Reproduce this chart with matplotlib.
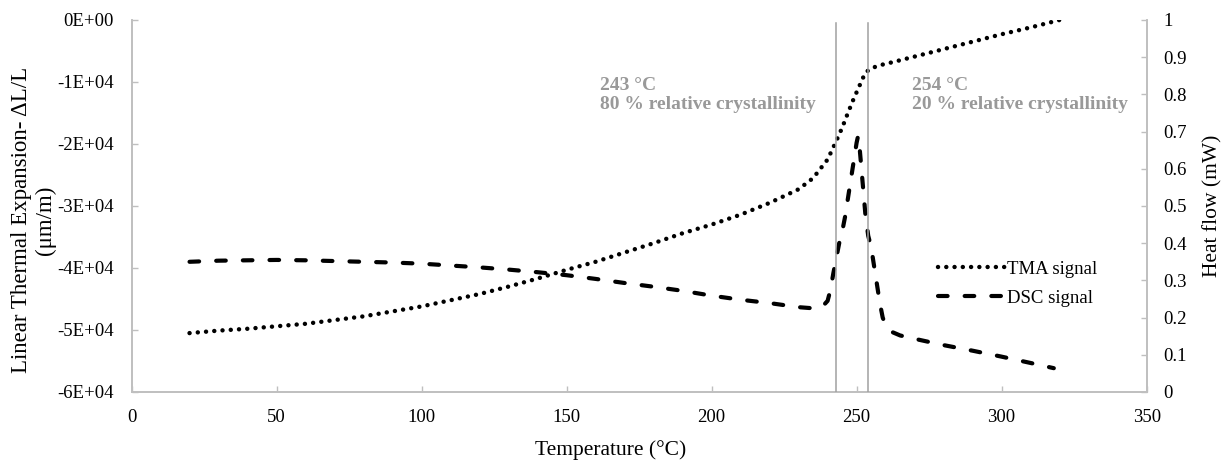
import numpy as np
import matplotlib
matplotlib.use('Agg')
import matplotlib.pyplot as plt
from matplotlib.ticker import FuncFormatter, MultipleLocator

plt.rcParams['font.family'] = ['Liberation Serif', 'DejaVu Serif']

# TMA signal (left axis, um/m)
tma_T = [20, 30, 40, 50, 60, 70, 80, 90, 100, 110, 120, 130, 140, 150, 160,
         170, 180, 190, 200, 210, 220, 230, 235, 240, 243, 245, 247, 249, 251,
         253, 255, 258, 262, 270, 280, 290, 300, 310, 320]
tma_val = [-50500, -50100, -49800, -49400, -49000, -48400, -47800, -47000,
           -46200, -45200, -44200, -43000, -41700, -40300, -39000, -37500,
           -36000, -34400, -33000, -31400, -29500, -27300, -25500, -22500,
           -19500, -17400, -15000, -12700, -10600, -8500, -7800, -7300, -6850,
           -5900, -4700, -3500, -2300, -1200, 0]

# DSC signal (right axis, mW)
dsc_T = [20, 30, 40, 50, 60, 70, 80, 90, 100, 110, 120, 130, 140, 150, 160,
         170, 180, 190, 200, 210, 220, 230, 235, 238, 240, 241, 242, 243, 244,
         245, 246, 247, 248, 249, 250, 250.5, 251, 252, 253, 254, 255, 256,
         257, 258, 259, 260, 262, 265, 270, 280, 290, 300, 310, 318]
dsc_val = [0.350, 0.353, 0.354, 0.355, 0.354, 0.352, 0.350, 0.348, 0.345,
           0.340, 0.335, 0.329, 0.322, 0.314, 0.304, 0.293, 0.283, 0.272,
           0.259, 0.248, 0.239, 0.228, 0.225, 0.228, 0.245, 0.275, 0.32, 0.36,
           0.40, 0.43, 0.47, 0.52, 0.57, 0.62, 0.67, 0.688, 0.66, 0.57, 0.48,
           0.42, 0.39, 0.34, 0.29, 0.24, 0.20, 0.18, 0.162, 0.152, 0.143,
           0.126, 0.111, 0.095, 0.078, 0.064]

marks = [243, 254]
notes = ['243 °C\n80 % relative crystallinity', '254 °C\n20 % relative crystallinity']

grey = '#bfbfbf'
fig = plt.figure(figsize=(12.27, 4.65), dpi=100)
ax = fig.add_axes([0.1072, 0.157, 0.8273, 0.800])
ax2 = ax.twinx()

l1, = ax.plot(tma_T, tma_val, color='black', lw=3.2, dashes=(0.01, 1.85),
              dash_capstyle='round', label='TMA signal')
l2, = ax2.plot(dsc_T, dsc_val, color='black', lw=3, dashes=(2.3, 4.1),
               dash_capstyle='round', label='DSC signal')

for m in marks:
    ax2.axvline(m, ymax=0.992, color='#a0a0a0', lw=1.1, zorder=5)

ax.set_xlim(0, 350)
ax.set_ylim(-60000, 0)
ax2.set_ylim(0, 1)
ax.xaxis.set_major_locator(MultipleLocator(50))
ax.yaxis.set_major_locator(MultipleLocator(10000))
ax2.yaxis.set_major_locator(MultipleLocator(0.1))

def sci(v, pos):
    if v == 0:
        return '0E+00'
    return '%dE+04' % round(v / 1e4)

def heat(v, pos):
    return ('%.1f' % v).rstrip('0').rstrip('.') if v not in (0, 1) else '%d' % v

ax.yaxis.set_major_formatter(FuncFormatter(sci))
ax2.yaxis.set_major_formatter(FuncFormatter(heat))

for a in (ax, ax2):
    for s in a.spines.values():
        s.set_color(grey)
        s.set_linewidth(1.2)
    a.spines['top'].set_visible(False)
    a.tick_params(direction='in', length=4, width=1, color=grey,
                  labelsize=13.5, labelcolor='black')
ax.tick_params(axis='y', pad=13)
ax.tick_params(axis='x', pad=12)
ax2.tick_params(axis='y', pad=12)

ax.set_ylabel('Linear Thermal Expansion- ΔL/L\n(μm/m)', fontsize=16.5,
              linespacing=1.2, va='center')
ax.yaxis.set_label_coords(-0.0965, 0.462)
ax2.set_ylabel('Heat flow (mW)', fontsize=15.5, va='center')
ax2.yaxis.set_label_coords(1.0654, 0.5)
fig.text(611 / 1227, 1 - 450 / 465, 'Temperature (°C)', fontsize=15.5,
         ha='center', va='center')

ax2.text(600 / 1227, 1 - 77 / 465, notes[0], transform=fig.transFigure,
         fontsize=14, fontweight='bold', color='#999999', va='top',
         ha='left', linespacing=1.15)
ax2.text(912 / 1227, 1 - 77 / 465, notes[1], transform=fig.transFigure,
         fontsize=14, fontweight='bold', color='#999999', va='top',
         ha='left', linespacing=1.15)

ax2.legend([l1, l2], ['TMA signal', 'DSC signal'], loc='center left',
           bbox_to_anchor=(0.7645, 0.39), bbox_transform=fig.transFigure,
           frameon=False, fontsize=13.5, handlelength=3.6, handletextpad=0.1,
           borderpad=0, borderaxespad=0, labelspacing=0.65)

fig.savefig('out.png', dpi=100)
